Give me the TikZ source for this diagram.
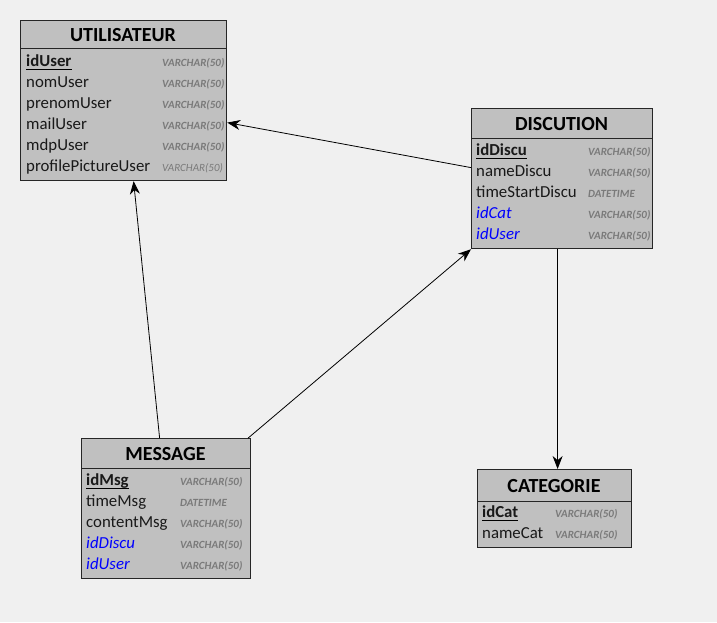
\documentclass[tikz,border=0pt]{standalone}
\usepackage{fontspec}
\setmainfont{Carlito}
\usetikzlibrary{arrows.meta}
\definecolor{bg}{HTML}{F0F0F0}
\definecolor{boxfill}{HTML}{C0C0C0}
\definecolor{typegray}{HTML}{7A7A7A}
\definecolor{fkblue}{HTML}{0000FF}
\begin{document}
\begin{tikzpicture}[x=1pt,y=-1pt,
  tbl/.style={draw=black!85,line width=1.2pt,fill=boxfill,anchor=north west,inner sep=0pt},
  hdr/.style={font=\fontsize{20}{20}\selectfont\bfseries,anchor=base,inner sep=0pt},
  fld/.style={font=\fontsize{16.8}{17}\selectfont,anchor=base west,inner sep=0pt,text=black!90},
  pkf/.style={fld,font=\fontsize{16.8}{17}\selectfont\bfseries},
  fk/.style={fld,font=\fontsize{16.8}{17}\selectfont\itshape,text=fkblue},
  typ/.style={font=\fontsize{11}{11}\selectfont\bfseries\itshape,anchor=base west,inner sep=0pt,text=typegray},
  sep/.style={draw=black!85,line width=1pt},
  pkul/.style={line width=1.3pt,black},
  rel/.style={draw=black,line width=0.8pt,-{Stealth[length=13pt,width=10pt]}}]
\useasboundingbox[fill=bg] (0,0) rectangle (717,622);

% UTILISATEUR
\node[tbl,minimum width=206pt,minimum height=160pt] (util) at (20,20) {};
\draw[sep] (20,48) -- (226,48);
\node[hdr] (utilh) at (123,41) {UTILISATEUR};
\node[pkf] (u1) at (26,66) {idUser};
\draw[pkul] ([yshift=-3.5pt]u1.base west) -- ([yshift=-3.5pt]u1.base east);
\node[fld] (u2) at (26,87) {nomUser};
\node[fld] (u3) at (26,108) {prenomUser};
\node[fld] (u4) at (26,129) {mailUser};
\node[fld] (u5) at (26,150) {mdpUser};
\node[fld] (u6) at (26,171) {profilePictureUser};
\node[typ] (ut1) at (162,66) {VARCHAR(50)};
\node[typ] (ut2) at (162,87) {VARCHAR(50)};
\node[typ] (ut3) at (162,108) {VARCHAR(50)};
\node[typ] (ut4) at (162,129) {VARCHAR(50)};
\node[typ] (ut5) at (162,150) {VARCHAR(50)};
\node[typ,font=\fontsize{11}{11}\selectfont\itshape] (ut6) at (162,171) {VARCHAR(50)};

% DISCUTION
\node[tbl,minimum width=181pt,minimum height=140pt] (disc) at (471,108) {};
\draw[sep] (471,138) -- (652,138);
\node[hdr] (disch) at (561.5,130) {DISCUTION};
\node[pkf] (d1) at (476,155) {idDiscu};
\draw[pkul] ([yshift=-3.5pt]d1.base west) -- ([yshift=-3.5pt]d1.base east);
\node[fld] (d2) at (476,176) {nameDiscu};
\node[fld] (d3) at (476,197) {timeStartDiscu};
\node[fk] (d4) at (476,218) {idCat};
\node[fk] (d5) at (476,239) {idUser};
\node[typ] (dt1) at (588,155) {VARCHAR(50)};
\node[typ] (dt2) at (588,176) {VARCHAR(50)};
\node[typ] (dt3) at (588,197) {DATETIME};
\node[typ] (dt4) at (588,218) {VARCHAR(50)};
\node[typ] (dt5) at (588,239) {VARCHAR(50)};

% MESSAGE
\node[tbl,minimum width=169pt,minimum height=140pt] (msg) at (81,438) {};
\draw[sep] (81,468) -- (250,468);
\node[hdr] (msgh) at (165.5,460) {MESSAGE};
\node[pkf] (m1) at (86,485) {idMsg};
\draw[pkul] ([yshift=-3.5pt]m1.base west) -- ([yshift=-3.5pt]m1.base east);
\node[fld] (m2) at (86,506) {timeMsg};
\node[fld] (m3) at (86,527) {contentMsg};
\node[fk] (m4) at (86,548) {idDiscu};
\node[fk] (m5) at (86,569) {idUser};
\node[typ] (mt1) at (180,485) {VARCHAR(50)};
\node[typ] (mt2) at (180,506) {DATETIME};
\node[typ] (mt3) at (180,527) {VARCHAR(50)};
\node[typ] (mt4) at (180,548) {VARCHAR(50)};
\node[typ] (mt5) at (180,569) {VARCHAR(50)};

% CATEGORIE
\node[tbl,minimum width=154pt,minimum height=78pt] (cat) at (477,469) {};
\draw[sep] (477,501) -- (631,501);
\node[hdr] (cath) at (554,492) {CATEGORIE};
\node[pkf] (c1) at (482,517) {idCat};
\draw[pkul] ([yshift=-3.5pt]c1.base west) -- ([yshift=-3.5pt]c1.base east);
\node[fld] (c2) at (482,538) {nameCat};
\node[typ] (ct1) at (555,517) {VARCHAR(50)};
\node[typ] (ct2) at (555,538) {VARCHAR(50)};

% relations
\draw[rel] ([yshift=11pt]disc.west) -- ([yshift=-22pt]util.east);
\draw[rel] ([xshift=-6.5pt]msg.north) -- ([xshift=10pt]util.south);
\draw[rel] ([xshift=-3pt]msg.north east) -- (disc.south west);
\draw[rel] ([xshift=-4.5pt]disc.south) -- ([xshift=3pt]cat.north);
\end{tikzpicture}
\end{document}
